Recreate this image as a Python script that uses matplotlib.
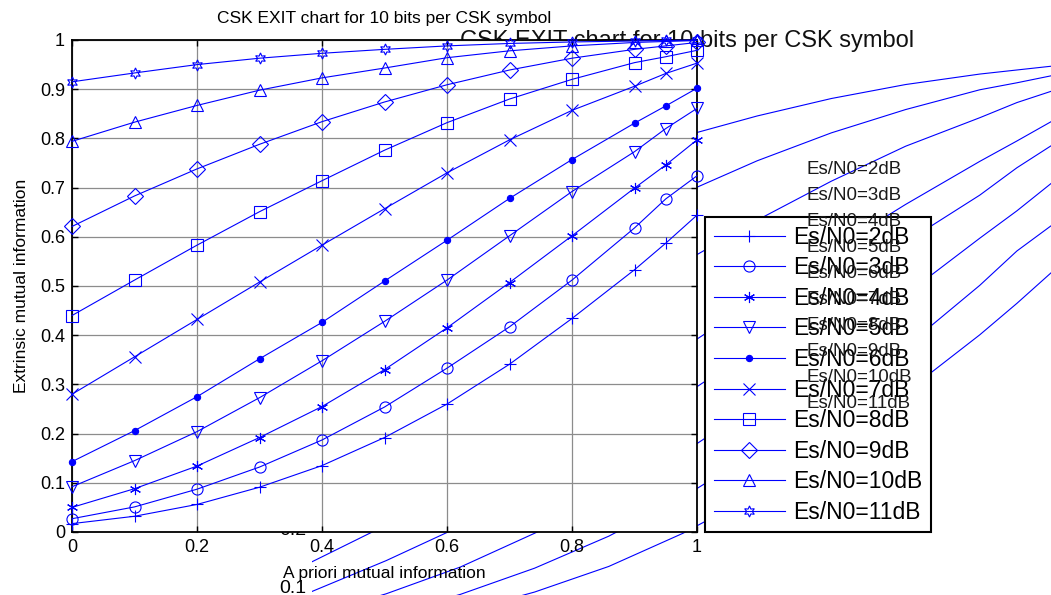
import matplotlib
matplotlib.use("Agg")
import matplotlib.pyplot as plt
import numpy as np

plt.rcParams['font.family'] = ['Liberation Sans', 'DejaVu Sans']

# ---------------- data ----------------
x_points = [0.0, 0.1, 0.2, 0.3, 0.4, 0.5, 0.6, 0.7, 0.8, 0.9, 0.95, 1.0]
snr2 = [0.017, 0.032, 0.056, 0.091, 0.135, 0.192, 0.260, 0.341, 0.434, 0.533, 0.587, 0.644]
snr3 = [0.027, 0.051, 0.087, 0.132, 0.187, 0.254, 0.333, 0.417, 0.512, 0.618, 0.677, 0.724]
snr4 = [0.050, 0.088, 0.134, 0.192, 0.255, 0.330, 0.415, 0.507, 0.602, 0.699, 0.746, 0.797]
snr5 = [0.092, 0.145, 0.204, 0.273, 0.348, 0.428, 0.512, 0.602, 0.692, 0.773, 0.820, 0.861]
snr6 = [0.143, 0.206, 0.275, 0.352, 0.426, 0.510, 0.593, 0.678, 0.757, 0.831, 0.866, 0.902]
snr7 = [0.280, 0.356, 0.432, 0.508, 0.583, 0.657, 0.730, 0.797, 0.857, 0.906, 0.932, 0.953]
snr8 = [0.440, 0.512, 0.583, 0.651, 0.714, 0.776, 0.832, 0.880, 0.920, 0.954, 0.966, 0.979]
snr9 = [0.621, 0.683, 0.738, 0.788, 0.834, 0.874, 0.909, 0.939, 0.963, 0.981, 0.988, 0.995]
snr10 = [0.794, 0.833, 0.867, 0.898, 0.923, 0.943, 0.964, 0.978, 0.988, 0.995, 0.997, 0.999]
snr11 = [0.915, 0.933, 0.950, 0.963, 0.973, 0.981, 0.988, 0.993, 0.996, 0.998, 0.999, 1.000]

series = [snr2, snr3, snr4, snr5, snr6, snr7, snr8, snr9, snr10, snr11]
labels = ['Es/N0=2dB', 'Es/N0=3dB', 'Es/N0=4dB', 'Es/N0=5dB', 'Es/N0=6dB',
          'Es/N0=7dB', 'Es/N0=8dB', 'Es/N0=9dB', 'Es/N0=10dB', 'Es/N0=11dB']
markers = ['+', 'o', (6, 2, 0), 'v', '.', 'x', 's', 'D', '^', (6, 1, 0)]

title_text = 'CSK EXIT chart for 10 bits per CSK symbol'
xlabel_text = 'A priori mutual information'
ylabel_text = 'Extrinsic mutual information'
x_ticks = [0, 0.2, 0.4, 0.6, 0.8, 1.0]
x_tick_labels = ['0', '0.2', '0.4', '0.6', '0.8', '1']
y_ticks = [0, 0.1, 0.2, 0.3, 0.4, 0.5, 0.6, 0.7, 0.8, 0.9, 1.0]
y_tick_labels = ['0', '0.1', '0.2', '0.3', '0.4', '0.5', '0.6', '0.7', '0.8', '0.9', '1']
bg_y_ticks = [0.1, 0.2, 0.3, 0.4, 0.5, 0.6, 0.7, 0.8, 0.9, 1.0]
bg_y_tick_labels = ['0.1', '0.2', '0.3', '0.4', '0.5', '0.6', '0.7', '0.8', '0.9', '1']
bg_grid_x = [0.6, 0.8]
bg_grid_y = [0.2, 0.3, 0.4, 0.5, 0.6, 0.7]
bg_series_count = 8  # 2dB .. 9dB drawn in the background copy

W, H = 1051, 595
fig = plt.figure(figsize=(W / 100, H / 100), dpi=100)
fig.patch.set_facecolor('white')

BLUE = (0, 0, 1)

# ---------------- background (enlarged copy) ----------------
ax_bg = fig.add_axes([312 / W, 1 - 645 / H, 742 / W, 582 / H], zorder=0)
ax_bg.set_xlim(0, 1)
ax_bg.set_ylim(0, 1)
for s in ax_bg.spines.values():
    s.set_visible(False)
ax_bg.patch.set_visible(False)
for ys in series[:bg_series_count]:
    ax_bg.plot(x_points, ys, color=BLUE, lw=0.8)
ax_bg.set_xticks(x_ticks)
ax_bg.set_xticklabels([])
ax_bg.set_xticks(bg_grid_x, minor=True)
ax_bg.set_yticks(bg_y_ticks)
ax_bg.set_yticklabels(bg_y_tick_labels, fontsize=14)
ax_bg.set_yticks(bg_grid_y, minor=True)
ax_bg.tick_params(which='both', length=0, pad=4)
ax_bg.grid(False)
ax_bg.grid(which='minor', axis='both', color='#a8a8a8', ls=(0, (1, 1)), lw=1.0)
ax_bg.text(0.505, 1 + 16 / 582, title_text, transform=ax_bg.transAxes,
           ha='center', va='baseline', fontsize=17, color='#111111')

# ---------------- foreground axes ----------------
ax = fig.add_axes([72 / W, 1 - 532 / H, 625 / W, 492 / H], zorder=1)
ax.set_facecolor('white')
handles = []
for ys, lab, mk in zip(series, labels, markers):
    filled = (mk == '.')
    h, = ax.plot(x_points, ys, color=BLUE, lw=0.8, marker=mk,
                 markersize=(9 if filled else 8),
                 markerfacecolor=(BLUE if filled else 'none'),
                 markeredgecolor=BLUE, markeredgewidth=0.8, label=lab,
                 clip_on=False, zorder=3)
    handles.append(h)
ax.set_xlim(0, 1)
ax.set_ylim(0, 1)
ax.set_xticks(x_ticks)
ax.set_xticklabels(x_tick_labels, fontsize=13)
ax.set_yticks(y_ticks)
ax.set_yticklabels(y_tick_labels, fontsize=13)
ax.tick_params(direction='in', top=True, right=True, length=4, width=1, pad=5)
ax.grid(True, color='#8c8c8c', lw=0.9, ls='-')
ax.set_axisbelow(True)
for s in ax.spines.values():
    s.set_linewidth(1.3)
ax.set_title(title_text, fontsize=12.5, pad=12)
ax.set_xlabel(xlabel_text, fontsize=12.5, labelpad=7)
ax.set_ylabel(ylabel_text, fontsize=12.5, labelpad=8)

leg = ax.legend(handles=handles, loc='upper left',
                bbox_to_anchor=(705 / W, 1 - 217 / H), bbox_transform=fig.transFigure,
                fontsize=16.5, handlelength=3.1, handletextpad=0.35,
                borderpad=0.38, labelspacing=0.33, borderaxespad=0,
                fancybox=False, framealpha=1, edgecolor='black')
leg.get_frame().set_linewidth(1.5)
leg.set_zorder(5)

# small legend texts of the background copy (drawn on top)
y0, dy = 170, 25.9
for i, lab in enumerate(labels):
    fig.text(807 / W, 1 - (y0 + i * dy) / H, lab, fontsize=13.5,
             va='center', ha='left', color='#1a1a1a', zorder=10)

fig.savefig('out.png', dpi=100)
